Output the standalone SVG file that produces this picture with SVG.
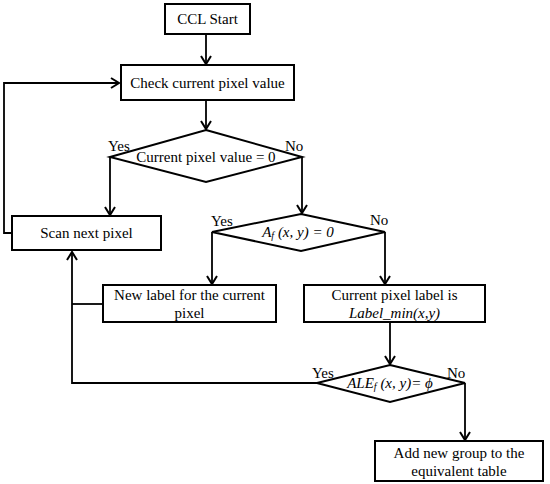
<svg xmlns="http://www.w3.org/2000/svg" width="550" height="484" viewBox="0 0 550 484">
<defs>
<marker id="arr" markerWidth="12" markerHeight="12" refX="10" refY="6" orient="auto" markerUnits="userSpaceOnUse">
<path d="M2,1 L10,6 L2,11" fill="none" stroke="#000" stroke-width="2"/>
</marker>
</defs>
<style>
.box{fill:#fff;stroke:#000;stroke-width:2}
.ln{fill:none;stroke:#000;stroke-width:1.8}
text{font-family:"Liberation Serif","Times New Roman",serif;font-size:15px;fill:#000}
.c{text-anchor:middle}
.i{font-style:italic}
</style>
<rect width="550" height="484" fill="#fff"/>
<g id="connectors">
<path class="ln" d="M206,34 V64" marker-end="url(#arr)"/>
<path class="ln" d="M12,233 H4 V83 H119" marker-end="url(#arr)"/>
<path class="ln" d="M206,100 V129" marker-end="url(#arr)"/>
<path class="ln" d="M110,157 V215" marker-end="url(#arr)"/>
<path class="ln" d="M302,157 V213" marker-end="url(#arr)"/>
<path class="ln" d="M212,232 V284" marker-end="url(#arr)"/>
<path class="ln" d="M385,232 V284" marker-end="url(#arr)"/>
<path class="ln" d="M103,304 H72"/>
<path class="ln" d="M317,383 H72 V252" marker-end="url(#arr)"/>
<path class="ln" d="M390,322 V364" marker-end="url(#arr)"/>
<path class="ln" d="M465,383 V440" marker-end="url(#arr)"/>
</g>
<g id="start">
<rect class="box" x="165" y="4" width="85" height="30"/>
<text class="c" x="207.5" y="24">CCL Start</text>
</g>
<g id="check">
<rect class="box" x="121" y="65" width="173" height="35"/>
<text class="c" x="207.5" y="88">Check current pixel value</text>
</g>
<g id="dec1">
<polygon class="box" points="206,130 302,157 206,182 110,157"/>
<text class="c" x="206" y="162">Current pixel value = 0</text>
<text x="108" y="151">Yes</text>
<text x="285" y="151">No</text>
</g>
<g id="scan">
<rect class="box" x="12" y="216" width="149" height="34"/>
<text class="c" x="86.5" y="238">Scan next pixel</text>
</g>
<g id="dec2">
<polygon class="box" points="301,214 385,232 301,251 212,232"/>
<text class="c i" x="298" y="237"><tspan>A</tspan><tspan font-size="10" dy="2">f</tspan><tspan dy="-2"> (x, y)  = 0</tspan></text>
<text x="211" y="226">Yes</text>
<text x="370" y="225">No</text>
</g>
<g id="newlabel">
<rect class="box" x="103" y="285" width="173" height="37"/>
<text class="c" x="189.5" y="300">New label for the current</text>
<text class="c" x="189.5" y="318">pixel</text>
</g>
<g id="curlabel">
<rect class="box" x="304" y="285" width="181" height="37"/>
<text class="c" x="394.5" y="300">Current pixel label is</text>
<text class="c i" x="394.5" y="318">Label_min(x,y)</text>
</g>
<g id="dec3">
<polygon class="box" points="390,365 465,383 390,402 317,383"/>
<text class="c i" x="390" y="388"><tspan>ALE</tspan><tspan font-size="10" dy="2">f</tspan><tspan dy="-2"> (x, y)= ϕ</tspan></text>
<text x="312" y="378">Yes</text>
<text x="447" y="378">No</text>
</g>
<g id="addgroup">
<rect class="box" x="375" y="441" width="168" height="40"/>
<text class="c" x="459" y="458">Add new group to the</text>
<text class="c" x="459" y="476">equivalent table</text>
</g>
</svg>
